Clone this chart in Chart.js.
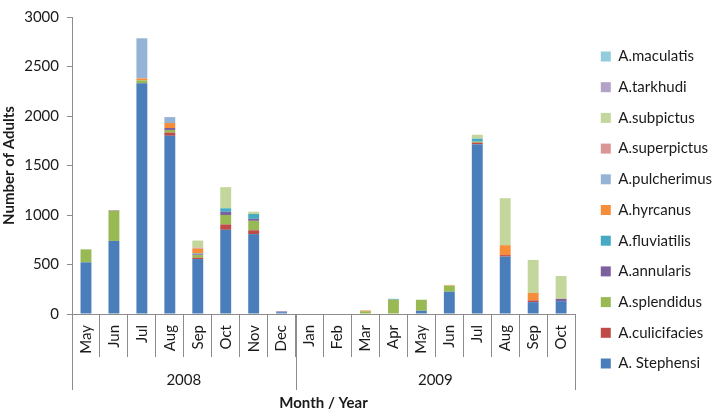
<!DOCTYPE html>
<html>
<head>
<meta charset="utf-8">
<script src="https://cdn.jsdelivr.net/npm/chart.js@4.4.1/dist/chart.umd.min.js"></script>
<style>
  html, body { margin: 0; padding: 0; background: #fff; }
</style>
</head>
<body>
<canvas id="myChart" width="725" height="412"></canvas>
<script>
// months May 2008 .. Oct 2009
const months = ['May', 'Jun', 'Jul', 'Aug', 'Sep', 'Oct', 'Nov', 'Dec',
                'Jan', 'Feb', 'Mar', 'Apr', 'May', 'Jun', 'Jul', 'Aug', 'Sep', 'Oct'];
const years = ['2008', '2009'];
const monthsPerYear = [8, 10];
const yTicks = [0, 500, 1000, 1500, 2000, 2500, 3000];

const stephensi    = [522, 738, 2330, 1800, 555, 850, 807, 18, 0, 0, 0, 0, 33, 225, 1715, 580, 120, 130];
const culicifacies = [0, 0, 0, 33, 13, 55, 39, 0, 0, 0, 0, 0, 0, 0, 16, 15, 17, 0];
const splendidus   = [131, 305, 30, 26, 27, 95, 95, 0, 0, 0, 28, 145, 111, 59, 10, 0, 0, 0];
const annularis    = [0, 5, 0, 20, 8, 32, 20, 8, 0, 0, 0, 0, 0, 0, 0, 0, 0, 23];
const fluviatilis  = [0, 0, 0, 0, 8, 36, 49, 0, 0, 0, 0, 8, 0, 0, 30, 0, 0, 0];
const hyrcanus     = [0, 0, 20, 50, 49, 0, 0, 0, 0, 0, 8, 0, 0, 5, 0, 100, 76, 0];
const pulcherimus  = [0, 0, 405, 60, 0, 0, 0, 0, 0, 0, 0, 0, 0, 0, 0, 0, 0, 0];
const superpictus  = [0, 0, 0, 0, 10, 0, 0, 0, 0, 0, 0, 0, 0, 0, 0, 0, 0, 0];
const subpictus    = [0, 0, 0, 0, 72, 213, 23, 0, 0, 0, 0, 0, 0, 5, 40, 475, 333, 231];
const tarkhudi     = [0, 0, 0, 0, 0, 0, 0, 0, 0, 0, 0, 0, 0, 0, 0, 0, 0, 0];
const maculatis    = [0, 0, 0, 0, 0, 0, 0, 0, 0, 0, 0, 0, 0, 0, 0, 0, 0, 0];

const FONT = 'Lato, "Liberation Sans", sans-serif';
const AXIS_GREY = '#8c8c8c';
const TEXT = '#1a1a1a';

function ds(label, data, color) {
  return { label: label, data: data, backgroundColor: color, borderWidth: 0 };
}

// year row under the month labels
const yearGroups = {
  id: 'yearGroups',
  afterDraw(chart) {
    const x = chart.scales.x, ctx = chart.ctx;
    const edge = i => i <= 0 ? x.left : i >= months.length ? x.right
      : (x.getPixelForValue(i - 1) + x.getPixelForValue(i)) / 2;
    ctx.save();
    ctx.strokeStyle = AXIS_GREY;
    ctx.lineWidth = 1;
    ctx.fillStyle = TEXT;
    ctx.font = '15px ' + FONT;
    ctx.textAlign = 'center';
    ctx.textBaseline = 'middle';
    let start = 0;
    years.forEach((yr, k) => {
      const a = edge(start), b = edge(start + monthsPerYear[k]);
      [a, b].forEach(px => {
        const xx = Math.round(px) + 0.5;
        ctx.beginPath();
        ctx.moveTo(xx, x.top);
        ctx.lineTo(xx, 390);
        ctx.stroke();
      });
      ctx.fillText(yr, (a + b) / 2, 380);
      start += monthsPerYear[k];
    });
    ctx.restore();
  }
};

// leave a wider gap between plot and legend keys
const legendGap = {
  id: 'legendGap',
  afterLayout(chart) {
    chart.legend.left += 10;
    chart.legend.right += 10;
  }
};

const ctx = document.getElementById('myChart').getContext('2d');
const chart = new Chart(ctx, {
  type: 'bar',
  data: {
    labels: months,
    datasets: [
      ds('A. Stephensi', stephensi, '#4A7EBB'),
      ds('A.culicifacies', culicifacies, '#BE4B48'),
      ds('A.splendidus', splendidus, '#98B954'),
      ds('A.annularis', annularis, '#7D60A0'),
      ds('A.fluviatilis', fluviatilis, '#46AAC5'),
      ds('A.hyrcanus', hyrcanus, '#F68D3B'),
      ds('A.pulcherimus', pulcherimus, '#95B3D7'),
      ds('A.superpictus', superpictus, '#D99694'),
      ds('A.subpictus', subpictus, '#C3D69B'),
      ds('A.tarkhudi', tarkhudi, '#B3A2C7'),
      ds('A.maculatis', maculatis, '#93CDDD')
    ]
  },
  options: {
    responsive: false,
    animation: false,
    layout: { padding: { top: 8, right: 13, bottom: 0, left: 0 } },
    datasets: { bar: { barPercentage: 0.39, categoryPercentage: 1 } },
    plugins: {
      tooltip: { enabled: false },
      legend: {
        position: 'right',
        reverse: true,
        labels: {
          boxWidth: 10, boxHeight: 10, padding: 15.7,
          color: TEXT,
          font: { family: FONT, size: 15 }
        }
      }
    },
    scales: {
      x: {
        stacked: true,
        afterFit(scale) { scale.height = 98; },
        border: { color: AXIS_GREY },
        grid: { drawOnChartArea: false, offset: true, tickLength: 43, color: AXIS_GREY },
        ticks: {
          minRotation: 90, maxRotation: 90, autoSkip: false,
          padding: -32, color: TEXT,
          font: { family: FONT, size: 15 }
        },
        title: {
          display: true, text: 'Month / Year', color: TEXT,
          padding: { top: 0, bottom: 0 },
          font: { family: FONT, size: 15, weight: 'bold' }
        }
      },
      y: {
        stacked: true,
        min: 0, max: 3000,
        afterFit(scale) { scale.width = 72; },
        afterBuildTicks(scale) { scale.ticks = yTicks.map(v => ({ value: v })); },
        border: { color: AXIS_GREY },
        grid: { drawOnChartArea: false, tickLength: 5, color: AXIS_GREY },
        ticks: {
          padding: 8, color: TEXT,
          font: { family: FONT, size: 15 },
          callback: v => String(v)
        },
        title: {
          display: true, text: 'Number of Adults', color: TEXT,
          padding: { top: 0, bottom: 0 },
          font: { family: FONT, size: 15, weight: 'bold' }
        }
      }
    }
  },
  plugins: [yearGroups, legendGap]
});
</script>
</body>
</html>
